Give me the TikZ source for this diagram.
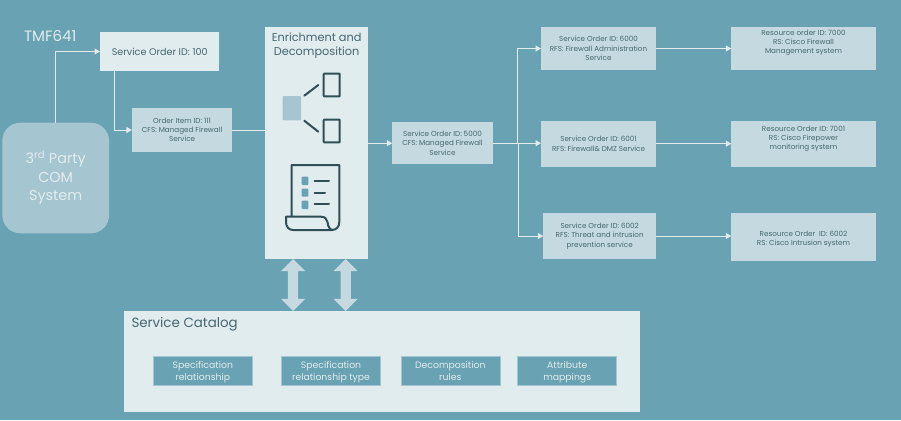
\documentclass[tikz,border=0pt]{standalone}
\usepackage{fontspec}
\setmainfont{Poppins}
\usetikzlibrary{arrows.meta,shapes.arrows}
\definecolor{bgc}{HTML}{68A2B3}
\definecolor{lightc}{HTML}{E1ECEE}
\definecolor{midc}{HTML}{C5D9E0}
\definecolor{comc}{HTML}{A5C6D0}
\definecolor{darkc}{HTML}{2F4F55}
\definecolor{txtc}{HTML}{47666F}
\newcommand{\fs}[2]{\fontsize{#1}{#2}\selectfont}
\newcommand{\nd}[1]{\raisebox{0pt}[\height][0pt]{#1}}
\tikzset{
  boxbase/.style={inner sep=0pt,align=center,outer sep=0pt},
  midbox/.style={boxbase,fill=midc,text=txtc,font=\fs{7.2}{9.3}},
  lightbox/.style={boxbase,fill=lightc,text=txtc},
  tealbox/.style={boxbase,fill=bgc,draw=comc,line width=.5pt,text=lightc,font=\fs{9.3}{12.5},minimum width=99pt,minimum height=29.5pt},
  conn/.style={draw=lightc,line width=1pt,-{Triangle[length=5.5pt,width=6pt]}},
  plainconn/.style={draw=lightc,line width=1pt},
  dbl/.style={shape=double arrow,fill=midc,rotate=90,inner sep=5pt,minimum height=52pt,minimum width=24pt,double arrow head extend=7pt,double arrow tip angle=90},
  icon/.style={draw=darkc,line width=2pt},
  iconline/.style={draw=darkc,line width=2pt,line cap=round},
}
\begin{document}
\begin{tikzpicture}[x=1pt,y=-1pt]
\fill[bgc] (0,0) rectangle (901,420);
\useasboundingbox (0,0) rectangle (901,420);
% left
\node[boxbase,fill=comc,rounded corners=18pt,minimum width=106.7pt,minimum height=110.6pt,text=lightc,font=\fs{14.4}{18.5}] (com) at (55.7,178) {3\textsuperscript{rd} Party\\COM\\System};
\node[boxbase,anchor=base west,text=lightc,font=\fs{15}{15}] (tmf) at (24,41.5) {TMF641};
\node[lightbox,font=\fs{9.6}{10},minimum width=119.4pt,minimum height=39.6pt] (so100) at (159.7,51.5) {Service Order ID: 100};
\node[midbox,minimum width=100.3pt,minimum height=43.4pt] (item) at (182.1,130) {Order Item ID: 111\\CFS: Managed Firewall\\Service};
% enrichment
\node[boxbase,fill=lightc,minimum width=103.3pt,minimum height=232pt] (enrich) at (316.6,143) {};
\node[boxbase,text=txtc,font=\fs{11.3}{14.5}] (enrichtitle) at (316.6,45.5) {Enrichment and\\Decomposition};
% decomposition icon
\fill[comc,rounded corners=1pt] (282.7,96) rectangle (301,120.3);
\draw[icon,rounded corners=.6pt] (323.7,73.7) rectangle (339.7,96.3);
\draw[icon,rounded corners=.6pt] (323.7,119.7) rectangle (339.7,142.3);
\draw[iconline] (304.3,95.7) -- (318.3,85);
\draw[iconline] (304.3,120.7) -- (318.3,131.7);
% scroll icon
\draw[icon,line join=round] (291.7,216.7) -- (291.7,165) -- (339.3,165) -- (339.3,222)
  .. controls (339.3,227) and (336,230) .. (332,230) -- (293,230)
  .. controls (289,230) and (286,227) .. (286,222) -- (286,216.7) -- (321,216.7)
  .. controls (325,216.7) and (327,219) .. (327.5,222) .. controls (328,227) and (330,230) .. (333,230);
\fill[bgc,rounded corners=.8pt] (301.7,176.7) rectangle (308.3,185);
\fill[bgc,rounded corners=.8pt] (301.7,188.7) rectangle (308.3,196.7);
\fill[bgc,rounded corners=.8pt] (301.7,200.7) rectangle (308.3,209);
\draw[iconline] (314.5,180.7) -- (329,180.7);
\draw[iconline] (314.5,192.7) -- (325,192.7);
\draw[iconline] (314.5,204.3) -- (329,204.3);
% middle
\node[midbox,minimum width=100.4pt,minimum height=42.3pt] (so5000) at (442.5,143.2) {Service Order ID: 5000\\CFS: Managed Firewall\\Service};
% services
\node[midbox,minimum width=115pt,minimum height=43pt] (so6000) at (598.5,48.5) {Service Order ID: 6000\\RFS: Firewall Administration\\Service};
\node[midbox,minimum width=115pt,minimum height=46pt] (so6001) at (598.5,143.7) {Service Order ID: 6001\\RFS: Firewall\& DMZ Service};
\node[midbox,minimum width=112.7pt,minimum height=45.4pt] (so6002) at (599.65,236) {Service Order ID: 6002\\RFS: Threat and intrusion\\prevention service};
% resources
\node[midbox,minimum width=144.4pt,minimum height=43pt] (ro7000) at (803.5,48.5) {};
\node[boxbase,text=txtc,font=\fs{7.2}{9.3}] (ro7000t) at (803.5,43) {Resource order ID: 7000\\RS: Cisco Firewall\\Management system};
\node[midbox,minimum width=144.4pt,minimum height=46pt] (ro7001) at (803.5,143.7) {};
\node[boxbase,text=txtc,font=\fs{7.2}{9.3}] (ro7001t) at (803.5,139) {Resource Order ID: 7001\\RS: Cisco Firepower\\monitoring system};
\node[midbox,minimum width=144.4pt,minimum height=47.7pt] (ro7002) at (803.5,237.2) {};
\node[boxbase,text=txtc,font=\fs{7.2}{9.3}] (ro7002t) at (803.5,239.3) {Resource Order~ ID: 6002\\RS: Cisco Intrusion system};
% catalog
\node[lightbox,minimum width=516pt,minimum height=100.7pt] (cat) at (382,361.3) {};
\node[boxbase,anchor=base west,text=txtc,font=\fs{13.4}{14}] (cattitle) at (131.5,327.5) {Service Catalog};
\node[tealbox] (s1) at (202.8,370.8) {Specification\\\nd{relationship}};
\node[tealbox] (s2) at (331,370.8) {Specification\\\nd{relationship type}};
\node[tealbox] (s3) at (450.3,370.8) {Decomposition\\\nd{rules}};
\node[tealbox] (s4) at (567.2,370.8) {Attribute\\\nd{mappings}};
\node[dbl] (d1) at (293,285) {};
\node[dbl] (d2) at (345.7,285) {};
% connectors
\draw[conn] (com.north) |- (so100.west);
\draw[conn] ([xshift=14.7pt]so100.south west) |- (item.west);
\draw[plainconn] (item.east) -- (item.east -| enrich.west);
\draw[conn] (so5000.west -| enrich.east) -- (so5000.west);
\coordinate (j1) at ([xshift=24.8pt]so5000.east);
\coordinate (j2) at ([xshift=25.8pt]so5000.east);
\draw[conn] (so5000.east) -- (j1) |- (so6000.west);
\draw[conn] (so5000.east) -- (so5000.east -| so6001.west);
\draw[conn] (j2) |- (so6002.west);
\draw[conn] (so6000.east) -- (ro7000.west);
\draw[conn] (so6001.east) -- (ro7001.west);
\draw[conn] (so6002.east) -- (so6002.east -| ro7002.west);
\end{tikzpicture}
\end{document}
